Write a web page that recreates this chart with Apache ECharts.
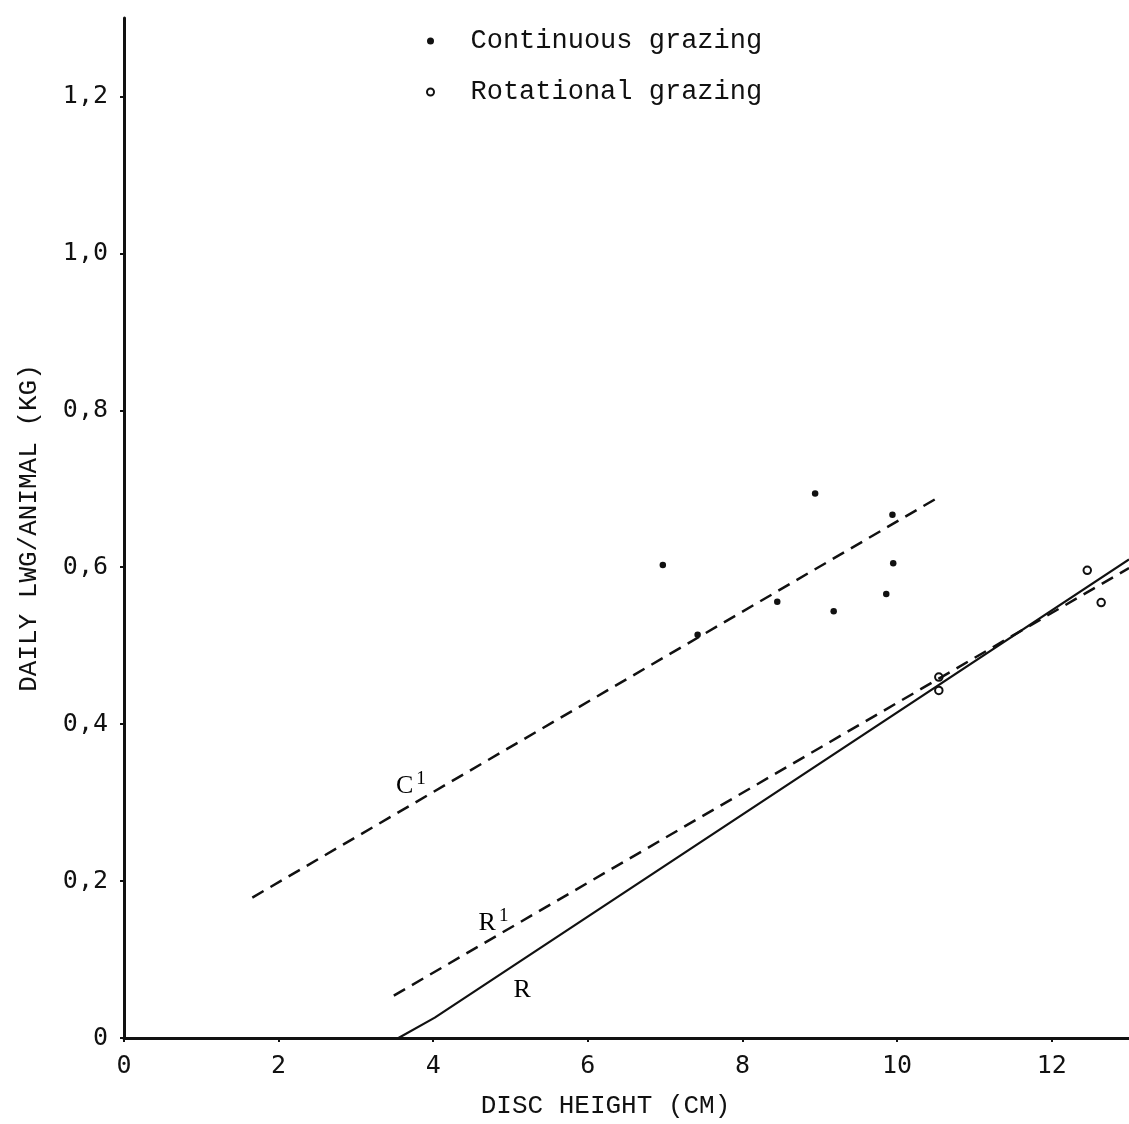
<!DOCTYPE html>
<html>
<head>
<meta charset="utf-8">
<script src="https://cdn.jsdelivr.net/npm/echarts@6/dist/echarts.min.js"></script>
<style>
html,body{margin:0;padding:0;background:#fff;}
#chart{width:1129px;height:1124px;}
</style>
</head>
<body>
<div id="chart"></div>
<script>
// ---- data ----
const xTicks = [0, 2, 4, 6, 8, 10, 12];
const yTicks = [0, 0.2, 0.4, 0.6, 0.8, 1.0, 1.2];
const xTitle = 'DISC HEIGHT (CM)';
const yTitle = 'DAILY LWG/ANIMAL (KG)';
const legendNames = ['Continuous grazing', 'Rotational grazing'];

const contX = [6.97, 7.42, 8.45, 8.94, 9.18, 9.86, 9.94, 9.95];
const contY = [0.603, 0.514, 0.556, 0.694, 0.544, 0.566, 0.667, 0.605];
const rotX = [10.54, 10.54, 12.46, 12.64];
const rotY = [0.460, 0.443, 0.596, 0.555];

const lineC1X = [1.66, 10.55];
const lineC1Y = [0.179, 0.690];
const lineR1X = [3.49, 13];
const lineR1Y = [0.054, 0.599];
const lineRX = [3.55, 4.02, 13];
const lineRY = [0, 0.026, 0.610];

const lineLabels = ['C', 'R', 'R'];
const lineLabelSup = ['1', '1', ''];
const lineLabelX = [3.71, 4.78, 5.15];
const lineLabelY = [0.321, 0.146, 0.061];

// ---- chart ----
const zip = (xs, ys) => xs.map((x, i) => [x, ys[i]]);
const ink = '#111111';
const monoFont = '"Liberation Mono", "DejaVu Sans Mono", monospace';
const tickFont = '"DejaVu Sans Mono", monospace';

const chart = echarts.init(document.getElementById('chart'), null, {renderer: 'canvas'});
const option = {
  backgroundColor: '#ffffff',
  animation: false,
  grid: {left: 124, top: 18, right: -5, bottom: 82, containLabel: false},
  legend: {
    orient: 'vertical',
    left: 426,
    top: 26,
    padding: 0,
    itemWidth: 70,
    itemHeight: 7,
    itemGap: 21,
    data: legendNames,
    textStyle: {fontFamily: monoFont, fontSize: 27, color: ink, lineHeight: 30}
  },
  xAxis: {
    type: 'value',
    min: 0, max: 13, interval: 2,
    name: xTitle,
    nameLocation: 'middle',
    nameGap: 55,
    nameTextStyle: {fontFamily: monoFont, fontSize: 26, color: ink, padding: [0, 42, 0, 0]},
    axisLine: {show: true, onZero: false, lineStyle: {color: ink, width: 3}},
    axisTick: {show: true, length: 4, customValues: xTicks, lineStyle: {color: ink, width: 2}},
    axisLabel: {customValues: xTicks, margin: 16, fontFamily: tickFont, fontSize: 25, color: ink},
    splitLine: {show: false}
  },
  yAxis: {
    type: 'value',
    min: 0, max: 1.3, interval: 0.2,
    name: yTitle,
    nameLocation: 'middle',
    nameGap: 82,
    nameRotate: 90,
    nameTextStyle: {fontFamily: monoFont, fontSize: 26, color: ink},
    axisLine: {show: true, onZero: false, lineStyle: {color: ink, width: 3}},
    axisTick: {show: true, length: 4, customValues: yTicks, lineStyle: {color: ink, width: 2}},
    axisLabel: {
      customValues: yTicks, margin: 16, fontFamily: tickFont, fontSize: 25, color: ink,
      formatter: v => (Math.abs(v) < 1e-9 ? '0' : v.toFixed(1).replace('.', ','))
    },
    splitLine: {show: false}
  },
  series: [
    {
      type: 'line', name: 'C1', data: zip(lineC1X, lineC1Y), symbol: 'none', silent: true,
      lineStyle: {color: ink, width: 2.5, type: [13, 8]}
    },
    {
      type: 'line', name: 'R1', data: zip(lineR1X, lineR1Y), symbol: 'none', silent: true,
      lineStyle: {color: ink, width: 2.5, type: [13, 8]}
    },
    {
      type: 'line', name: 'R', data: zip(lineRX, lineRY), symbol: 'none', silent: true,
      lineStyle: {color: ink, width: 2.2, type: 'solid'}
    },
    {
      type: 'scatter', name: 'labels', silent: true, symbol: 'circle', symbolSize: 2,
      itemStyle: {color: 'rgba(0,0,0,0)', opacity: 1},
      data: lineLabelX.map((x, i) => ({value: [x, lineLabelY[i]], name: lineLabels[i]})),
      label: {
        show: true, position: 'inside', opacity: 1,
        formatter: p => p.name + (lineLabelSup[p.dataIndex] ? '{s|' + lineLabelSup[p.dataIndex] + '}' : ''),
        fontFamily: '"Liberation Serif", serif', fontSize: 26, color: '#000',
        rich: {s: {fontFamily: '"Liberation Serif", serif', fontSize: 19, color: '#000', padding: [0, 0, 14, 3]}}
      }
    },
    {
      type: 'scatter', name: legendNames[0], data: zip(contX, contY),
      symbol: 'circle', symbolSize: 6.5,
      itemStyle: {color: ink, opacity: 1}
    },
    {
      type: 'scatter', name: legendNames[1], data: zip(rotX, rotY),
      symbol: 'emptyCircle', symbolSize: 7.5,
      itemStyle: {color: ink, borderColor: ink, borderWidth: 1.6, opacity: 1}
    }
  ]
};
chart.setOption(option);
</script>
</body>
</html>
